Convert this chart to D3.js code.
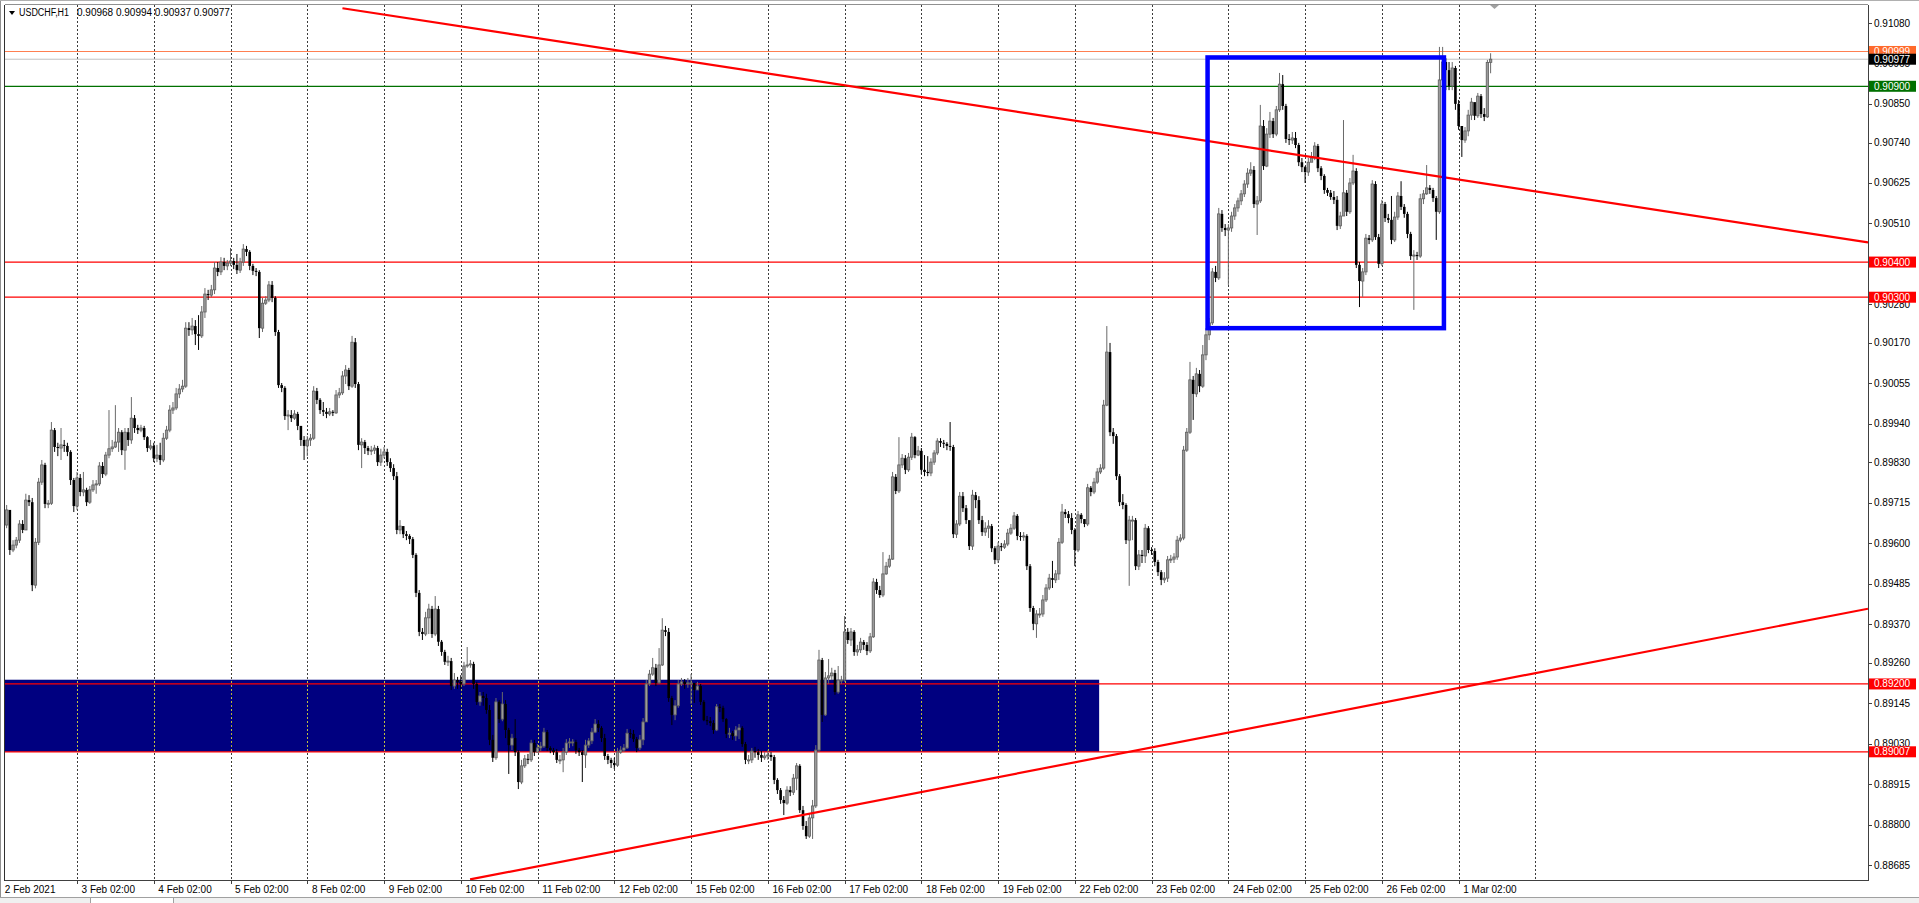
<!DOCTYPE html>
<html><head><meta charset="utf-8">
<script src="https://cdn.jsdelivr.net/npm/d3@7"></script>
<style>
html,body{margin:0;padding:0;background:#fff;overflow:hidden}
svg{display:block;font-family:"Liberation Sans",Arial,sans-serif;font-size:10px}
</style></head><body>
<svg id="chart" width="1919" height="903"></svg>
<script>
// ---------------- DATA ----------------
const symbolTitle = "USDCHF,H1";
const lastBarText = ["0.90968", "0.90994", "0.90937", "0.90977"];
const firstBarIndex = 2; // bar index 0 = 2 Feb 02:00, one bar per hour
// prices in points (1 point = 0.00001)
const openPts = [
89652,89695,89581,89595,89609,89655,89638,89723,89717,89481,89603,89774,89823,89712,89714,89922,89874,89871,89880,89877,89860,89780,
89706,89786,89746,89752,89717,89752,89766,89769,89820,89797,89851,89869,89874,89888,89916,89865,89916,89894,89956,89928,89922,89928,89902,89871,
89877,89842,89851,89837,89899,89922,89979,89985,90025,90039,90047,90212,90207,90218,90195,90190,90258,90309,90306,90321,90383,90372,90400,90389,
90397,90403,90392,90377,90400,90437,90429,90389,90375,90372,90212,90283,90292,90335,90298,90201,90050,90042,89962,89965,89956,89968,89934,89894,
89877,89894,89899,90033,90008,89979,89974,89968,89974,89971,90022,90028,90076,90093,90047,90172,90053,89880,89888,89871,89863,89865,89871,89831,
89851,89860,89831,89814,89791,89638,89649,89626,89621,89612,89567,89459,89348,89342,89388,89413,89342,89413,89320,89291,89263,89265,89194,89211,
89206,89200,89251,89254,89257,89200,89149,89166,89160,89126,89041,88990,89149,89100,89143,89069,89026,89046,89006,88921,88967,88987,88984,89032,
89006,89018,89023,89063,89018,89012,89006,88984,88984,89006,89032,89035,89035,89012,89006,88998,89026,89038,89063,89086,89075,89046,88995,88984,
88975,88969,89006,89012,89018,89060,89058,89043,89018,89041,89092,89200,89228,89246,89203,89254,89353,89348,89160,89112,89138,89200,89206,89200,
89203,89203,89183,89194,89149,89097,89094,89089,89069,89135,89132,89100,89058,89060,89052,89069,89075,89029,88984,88984,89009,89006,88998,88990,
88995,88998,88992,88927,88898,88870,88861,88898,88892,88932,88967,88841,88796,88767,88819,88853,89012,89268,89112,89217,89223,89231,89177,89211,
89211,89348,89325,89348,89291,89297,89319,89311,89294,89334,89490,89467,89453,89513,89535,89555,89789,89749,89823,89842,89809,89845,89902,89851,
89863,89809,89803,89800,89831,89857,89891,89886,89883,89877,89874,89626,89655,89734,89700,89666,89592,89737,89723,89666,89632,89643,89649,89586,
89553,89592,89589,89598,89629,89643,89678,89621,89618,89621,89535,89416,89371,89399,89399,89439,89473,89501,89496,89513,89603,89689,89683,89672,
89638,89581,89681,89669,89655,89758,89746,89774,89803,89814,89993,90144,89916,89905,89791,89717,89709,89609,89666,89666,89535,89567,89564,89643,
89581,89578,89547,89518,89496,89501,89553,89555,89561,89609,89615,89865,89916,90065,90025,90082,90047,90136,90193,90227,90372,90355,90537,90497,
90491,90497,90531,90554,90574,90594,90622,90653,90662,90565,90574,90787,90673,90764,90801,90764,90833,90906,90844,90750,90747,90753,90733,90684,
90670,90656,90684,90696,90730,90667,90645,90605,90597,90585,90577,90503,90531,90597,90543,90625,90659,90392,90346,90372,90468,90463,90622,90471,
90395,90565,90525,90520,90463,90528,90588,90557,90537,90480,90417,90420,90417,90580,90594,90611,90605,90582,90543,90918,90969,90946,90901,90952,
90850,90787,90747,90773,90818,90855,90816,90872,90821,90813,90968
];
const highPts = [
89709,89681,89609,89618,89666,89666,89741,89737,89729,89615,89786,89837,89829,89723,89945,89928,89886,89928,89894,89886,89865,89786,
89803,89797,89803,89758,89763,89780,89780,89831,89831,89860,89979,89894,89993,89928,89922,89928,89928,90016,89965,89937,89937,89934,89905,89894,
89886,89880,89886,89914,89934,89993,90002,90042,90053,90065,90229,90229,90241,90235,90249,90275,90326,90321,90335,90400,90400,90414,90412,90406,
90440,90412,90423,90412,90451,90446,90434,90395,90383,90377,90298,90303,90346,90346,90303,90207,90056,90047,89979,89979,89979,89974,89931,89905,
89905,89911,90047,90042,90013,90002,89985,89985,89979,90036,90042,90090,90107,90099,90190,90184,90059,89899,89894,89877,89877,89880,89877,89869,
89874,89869,89842,89825,89803,89666,89649,89635,89626,89618,89572,89467,89359,89405,89428,89422,89450,89422,89325,89297,89280,89274,89231,89220,
89225,89263,89305,89268,89263,89206,89177,89177,89172,89140,89055,89160,89154,89177,89154,89075,89058,89100,89012,88984,88998,89001,89041,89041,
89029,89035,89075,89069,89023,89018,89015,88998,89018,89043,89046,89043,89041,89018,89012,89041,89046,89075,89100,89097,89080,89058,89001,88990,
88990,89018,89023,89029,89072,89072,89069,89049,89055,89103,89211,89240,89274,89257,89302,89387,89365,89359,89166,89154,89211,89217,89214,89217,
89228,89200,89206,89200,89154,89109,89106,89097,89143,89143,89138,89103,89075,89066,89080,89086,89080,89035,88998,89018,89021,89015,89009,89006,
89012,89006,88998,88932,88904,88881,88909,88909,88944,88975,88972,88853,88810,88830,88870,89026,89297,89274,89234,89271,89246,89240,89251,89223,
89393,89359,89359,89353,89311,89331,89325,89319,89345,89501,89499,89479,89575,89547,89567,89803,89797,89902,89854,89851,89857,89914,89905,89877,
89871,89851,89848,89842,89865,89899,89899,89894,89888,89945,89880,89666,89746,89746,89709,89660,89752,89746,89734,89678,89660,89666,89655,89592,
89603,89601,89609,89641,89655,89689,89683,89632,89632,89626,89541,89422,89410,89416,89453,89484,89513,89550,89524,89615,89712,89697,89692,89686,
89643,89692,89686,89669,89769,89763,89786,89814,89825,90008,90218,90170,89928,89911,89797,89740,89714,89678,89678,89672,89581,89581,89655,89649,
89589,89586,89553,89524,89518,89564,89567,89572,89621,89626,89877,89928,90116,90076,90099,90093,90164,90212,90241,90383,90389,90554,90548,90508,
90508,90543,90565,90583,90605,90633,90667,90684,90673,90588,90847,90804,90781,90827,90810,90844,90938,90932,90850,90764,90770,90770,90739,90696,
90673,90696,90713,90741,90736,90673,90650,90611,90605,90602,90588,90543,90804,90605,90639,90705,90667,90400,90383,90480,90477,90633,90630,90480,
90577,90571,90537,90588,90543,90599,90630,90565,90543,90486,90434,90429,90594,90605,90676,90619,90611,90588,91012,91012,90980,90969,90969,90958,
90861,90787,90784,90833,90867,90850,90881,90878,90838,90975,90994
];
const lowPts = [
89643,89567,89575,89586,89601,89629,89638,89706,89464,89472,89595,89766,89700,89700,89709,89860,89848,89837,89860,89848,89766,89689,
89695,89734,89734,89706,89712,89746,89741,89763,89786,89791,89842,89860,89871,89860,89851,89809,89877,89883,89914,89911,89916,89894,89860,89865,
89831,89831,89823,89831,89894,89916,89968,89979,90013,90030,90042,90190,90193,90164,90150,90184,90241,90292,90300,90309,90360,90363,90377,90377,
90389,90380,90366,90369,90389,90417,90377,90363,90360,90184,90201,90278,90286,90286,90190,90042,90030,89951,89922,89945,89951,89922,89877,89837,
89848,89877,89894,89996,89968,89962,89956,89962,89962,89968,90013,90022,90053,90036,90042,90042,89865,89814,89854,89851,89851,89854,89820,89820,
89842,89820,89803,89780,89626,89626,89615,89609,89598,89558,89447,89336,89325,89336,89342,89331,89336,89308,89280,89254,89251,89183,89186,89186,
89186,89194,89246,89246,89186,89140,89138,89138,89115,89026,88978,88984,89089,89094,89046,88944,89012,88995,88901,88915,88961,88972,88978,88995,
89006,89009,89018,89009,89003,88998,88975,88972,88949,88998,89018,89023,89001,88995,88921,88961,89018,89029,89060,89063,89035,88984,88972,88961,
88958,88964,89001,89006,89015,89046,89035,89006,89012,89026,89092,89194,89223,89194,89200,89251,89336,89149,89083,89097,89132,89194,89186,89189,
89143,89146,89183,89140,89094,89083,89080,89058,89066,89120,89092,89046,89046,89041,89038,89043,89021,88972,88972,88975,88990,88984,88978,88984,
88984,88981,88915,88887,88859,88827,88856,88881,88884,88898,88833,88785,88759,88762,88759,88847,89006,89092,89109,89200,89211,89169,89172,89200,
89206,89314,89308,89280,89280,89288,89297,89282,89288,89331,89456,89445,89447,89510,89530,89553,89740,89743,89814,89797,89803,89837,89842,89848,
89797,89791,89791,89791,89823,89851,89874,89871,89865,89863,89615,89615,89649,89689,89655,89581,89581,89700,89655,89621,89621,89615,89575,89541,
89544,89578,89584,89592,89624,89638,89609,89607,89607,89524,89405,89353,89331,89388,89391,89433,89467,89473,89487,89496,89598,89672,89657,89626,
89535,89575,89657,89646,89649,89734,89740,89769,89797,89809,89990,89905,89883,89780,89706,89697,89598,89479,89609,89524,89524,89544,89544,89572,
89567,89535,89507,89481,89487,89490,89544,89544,89553,89603,89609,89860,89911,89951,90016,90030,90042,90121,90178,90221,90343,90349,90486,90474,
90335,90486,90520,90543,90562,90585,90611,90645,90554,90477,90568,90662,90670,90753,90753,90758,90827,90833,90739,90733,90736,90724,90673,90656,
90625,90645,90687,90690,90656,90633,90594,90588,90577,90565,90491,90494,90543,90531,90537,90619,90383,90272,90301,90363,90451,90457,90463,90383,
90389,90514,90511,90451,90457,90520,90548,90526,90468,90406,90264,90406,90412,90565,90591,90594,90571,90463,90537,90912,90889,90889,90889,90833,
90776,90699,90739,90758,90804,90804,90810,90810,90801,90810,90937
];
const closePts = [
89695,89581,89595,89609,89655,89638,89723,89717,89481,89603,89774,89823,89712,89714,89922,89874,89871,89880,89877,89860,89780,89706,
89786,89746,89752,89717,89752,89766,89769,89820,89797,89851,89869,89874,89888,89916,89865,89916,89894,89956,89928,89922,89928,89902,89871,89877,
89842,89851,89837,89899,89922,89979,89985,90025,90039,90047,90212,90207,90218,90195,90190,90258,90309,90306,90321,90383,90372,90400,90389,90397,
90403,90392,90377,90400,90437,90429,90389,90375,90372,90212,90283,90292,90335,90298,90201,90050,90042,89962,89965,89956,89968,89934,89894,89877,
89894,89899,90033,90008,89979,89974,89968,89974,89971,90022,90028,90076,90093,90047,90172,90053,89880,89888,89871,89863,89865,89871,89831,89851,
89860,89831,89814,89791,89638,89649,89626,89621,89612,89567,89459,89348,89342,89388,89413,89342,89413,89320,89291,89263,89265,89194,89211,89206,
89200,89251,89254,89257,89200,89149,89166,89160,89126,89041,88990,89149,89100,89143,89069,89026,89046,89006,88921,88967,88987,88984,89032,89006,
89018,89023,89063,89018,89012,89006,88984,88984,89006,89032,89035,89035,89012,89006,88998,89026,89038,89063,89086,89075,89046,88995,88984,88975,
88969,89006,89012,89018,89060,89058,89043,89018,89041,89092,89200,89228,89246,89203,89254,89353,89348,89160,89112,89138,89200,89206,89200,89203,
89203,89183,89194,89149,89097,89094,89089,89069,89135,89132,89100,89058,89060,89052,89069,89075,89029,88984,88984,89009,89006,88998,88990,88995,
88998,88992,88927,88898,88870,88861,88898,88892,88932,88967,88841,88796,88767,88819,88853,89012,89268,89112,89217,89223,89231,89177,89211,89211,
89348,89325,89348,89291,89297,89319,89311,89294,89334,89490,89467,89453,89513,89535,89555,89789,89749,89823,89842,89809,89845,89902,89851,89863,
89809,89803,89800,89831,89857,89891,89886,89883,89877,89874,89626,89655,89734,89700,89666,89592,89737,89723,89666,89632,89643,89649,89586,89553,
89592,89589,89598,89629,89643,89678,89621,89618,89621,89535,89416,89371,89399,89399,89439,89473,89501,89496,89513,89603,89689,89683,89672,89638,
89581,89681,89669,89655,89758,89746,89774,89803,89814,89993,90144,89916,89905,89791,89717,89709,89609,89666,89666,89535,89567,89564,89643,89581,
89578,89547,89518,89496,89501,89553,89555,89561,89609,89615,89865,89916,90065,90025,90082,90047,90136,90193,90227,90372,90355,90537,90497,90491,
90497,90531,90554,90574,90594,90622,90653,90662,90565,90574,90787,90673,90764,90801,90764,90833,90906,90844,90750,90747,90753,90733,90684,90670,
90656,90684,90696,90730,90667,90645,90605,90597,90585,90577,90503,90531,90597,90543,90625,90659,90392,90346,90372,90468,90463,90622,90471,90395,
90565,90525,90520,90463,90528,90588,90557,90537,90480,90417,90420,90417,90580,90594,90611,90605,90582,90543,90918,90969,90946,90901,90952,90850,
90787,90747,90773,90818,90855,90816,90872,90821,90813,90968,90977
];
const timeLabels = ["2 Feb 2021","3 Feb 02:00","4 Feb 02:00","5 Feb 02:00","8 Feb 02:00","9 Feb 02:00","10 Feb 02:00","11 Feb 02:00","12 Feb 02:00","15 Feb 02:00","16 Feb 02:00","17 Feb 02:00","18 Feb 02:00","19 Feb 02:00","22 Feb 02:00","23 Feb 02:00","24 Feb 02:00","25 Feb 02:00","26 Feb 02:00","1 Mar 02:00"];
const timeLabelBars = [0,24,48,72,96,120,144,168,192,216,240,264,288,312,336,360,384,408,432,456];
const gridBars = [24,48,72,96,120,144,168,192,216,240,264,288,312,336,360,384,408,432,456,480];
const priceTicks = [0.91080,0.90965,0.90850,0.90740,0.90625,0.90510,0.90280,0.90170,0.90055,0.89940,0.89830,0.89715,0.89600,0.89485,0.89370,0.89260,0.89145,0.89030,0.88915,0.88800,0.88685];
const levelPrices = [0.90999, 0.90900, 0.90400, 0.90300, 0.89200, 0.89007];
const bidPrice = 0.90977;
const trendDown = [[107, 0.91122], [584, 0.90456]];   // [bar index, price]
const trendUp = [[146.9, 0.88644], [584, 0.89414]];
const zoneBars = [-5, 343.6], zonePrices = [0.89007, 0.89212];
const boxBars = [377.5, 451.4], boxPrices = [0.90212, 0.90982];

// ---------------- DRAW ----------------
const svg = d3.select("#chart");
const P = {l: 5, r: 1868, t: 5, b: 880};
const x = d3.scaleLinear().domain([0, 584]).range([0.25, 1868]);
const y = d3.scaleLinear().domain([0.88685, 0.91080]).range([865, 23]);
const levelColors = ["#FF7F50", "#007000", "#FF0000", "#FF0000", "#FF0000", "#FF0000"];

svg.append("rect").attr("width", 1919).attr("height", 903).attr("fill", "#fff");
svg.append("defs").append("clipPath").attr("id", "clip")
  .append("rect").attr("x", P.l).attr("y", P.t).attr("width", P.r - P.l).attr("height", P.b - P.t);

const g = svg.append("g").attr("clip-path", "url(#clip)");
g.append("rect").attr("x", P.l).attr("y", P.t).attr("width", P.r - P.l).attr("height", P.b - P.t).attr("fill", "#fff");

// navy zone
g.append("rect")
  .attr("x", x(zoneBars[0])).attr("width", x(zoneBars[1]) - x(zoneBars[0]))
  .attr("y", y(zonePrices[1])).attr("height", y(zonePrices[0]) - y(zonePrices[1]))
  .attr("fill", "#000080");

// vertical grid (difference blend: dark on white, yellowish on navy)
g.selectAll("line.grid").data(gridBars).join("line")
  .attr("class", "grid")
  .attr("x1", d => Math.round(x(d)) + 0.5).attr("x2", d => Math.round(x(d)) + 0.5)
  .attr("y1", P.t).attr("y2", P.b)
  .attr("stroke", "#C4C4C4").attr("stroke-width", 1).attr("stroke-dasharray", "2,2")
  .style("mix-blend-mode", "difference");

// horizontal levels
g.append("line").attr("x1", P.l).attr("x2", P.r)
  .attr("y1", y(bidPrice)).attr("y2", y(bidPrice)).attr("stroke", "#C0C0C0").attr("stroke-width", 1);
g.selectAll("line.level").data(levelPrices).join("line")
  .attr("class", "level")
  .attr("x1", P.l).attr("x2", P.r)
  .attr("y1", d => y(d)).attr("y2", d => y(d))
  .attr("stroke", (d, i) => levelColors[i]).attr("stroke-width", 1.2);

// candles
const n = closePts.length;
const bars = d3.range(n).map(i => ({
  b: firstBarIndex + i, o: openPts[i] / 1e5, h: highPts[i] / 1e5, l: lowPts[i] / 1e5, c: closePts[i] / 1e5
}));
const cg = g.append("g");
bars.forEach(d => {
  const cx = x(d.b);
  const up = d.c >= d.o;
  const col = up ? "#6a6a6a" : "#000";
  cg.append("line").attr("x1", cx).attr("x2", cx).attr("y1", y(d.h)).attr("y2", y(d.l))
    .attr("stroke", col).attr("stroke-width", 1);
  const top = y(Math.max(d.o, d.c)), bot = y(Math.min(d.o, d.c));
  const hgt = Math.max(1, bot - top);
  if (up) {
    cg.append("rect").attr("x", cx - 1.2).attr("width", 2.4).attr("y", top).attr("height", hgt)
      .attr("fill", "#9a9a9a").attr("stroke", "#5e5e5e").attr("stroke-width", 0.8);
  } else {
    cg.append("rect").attr("x", cx - 1.3).attr("width", 2.6).attr("y", top).attr("height", hgt)
      .attr("fill", "#000");
  }
});

// trend lines
const tl = d3.line().x(d => x(d[0])).y(d => y(d[1]));
[trendDown, trendUp].forEach(t => {
  g.append("path").attr("d", tl(t)).attr("stroke", "#FF0000").attr("stroke-width", 2.2).attr("fill", "none");
});

// blue box
g.append("rect")
  .attr("x", x(boxBars[0])).attr("width", x(boxBars[1]) - x(boxBars[0]))
  .attr("y", y(boxPrices[1])).attr("height", y(boxPrices[0]) - y(boxPrices[1]))
  .attr("fill", "none").attr("stroke", "#0000FF").attr("stroke-width", 4.5);

// frame
svg.append("line").attr("x1", P.l).attr("x2", P.r).attr("y1", P.b + 0.5).attr("y2", P.b + 0.5).attr("stroke", "#404040");
svg.append("line").attr("x1", P.r + 0.5).attr("x2", P.r + 0.5).attr("y1", P.t).attr("y2", P.b + 1).attr("stroke", "#404040");
svg.append("line").attr("x1", P.l).attr("x2", P.r).attr("y1", P.t - 0.5).attr("y2", P.t - 0.5).attr("stroke", "#909090");
svg.append("line").attr("x1", 4.5).attr("x2", 4.5).attr("y1", P.t).attr("y2", P.b + 1).attr("stroke", "#303030");
svg.append("line").attr("x1", 0.5).attr("x2", 0.5).attr("y1", 0).attr("y2", 897).attr("stroke", "#909090");
svg.append("line").attr("x1", 0).attr("x2", 1919).attr("y1", 0.5).attr("y2", 0.5).attr("stroke", "#b0b0b0");

// price axis
const ya = svg.append("g");
ya.selectAll("line").data(priceTicks).join("line")
  .attr("x1", P.r).attr("x2", P.r + 4).attr("y1", d => Math.round(y(d)) + 0.5).attr("y2", d => Math.round(y(d)) + 0.5)
  .attr("stroke", "#404040");
ya.selectAll("text").data(priceTicks).join("text")
  .attr("x", 1874).attr("y", d => y(d) + 3.5).attr("fill", "#000")
  .text(d => d3.format(".5f")(d));

// level labels
const boxes = levelPrices.map((p, i) => ({p, col: levelColors[i] === "#FF7F50" ? "#FF6A2B" : levelColors[i]}));
boxes.push({p: bidPrice, col: "#000"});
const lb = svg.append("g");
boxes.forEach(d => {
  const yy = y(d.p);
  lb.append("rect").attr("x", 1869).attr("y", yy - 5.5).attr("width", 47).attr("height", 11).attr("fill", d.col);
  lb.append("text").attr("x", 1874).attr("y", yy + 3.5).attr("fill", "#fff").text(d3.format(".5f")(d.p));
});

// time axis
const xa = svg.append("g");
xa.selectAll("line").data(timeLabelBars.slice(1)).join("line")
  .attr("x1", d => Math.round(x(d)) + 0.5).attr("x2", d => Math.round(x(d)) + 0.5)
  .attr("y1", P.b).attr("y2", P.b + 4).attr("stroke", "#404040");
xa.selectAll("text").data(timeLabels).join("text")
  .attr("x", (d, i) => x(timeLabelBars[i]) + 4.6).attr("y", 893).attr("fill", "#000")
  .text(d => d);

// bottom tab strip
svg.append("rect").attr("x", 0).attr("y", 897).attr("width", 1919).attr("height", 6).attr("fill", "#f0f0f0");
svg.append("line").attr("x1", 0).attr("x2", 1919).attr("y1", 897.5).attr("y2", 897.5).attr("stroke", "#a0a0a0");
svg.append("rect").attr("x", 90.5).attr("y", 897.5).attr("width", 83).attr("height", 6).attr("fill", "#fff").attr("stroke", "#a0a0a0");

// header
svg.append("path").attr("d", "M9,11 L15,11 L12,15 Z").attr("fill", "#000");
svg.append("text").attr("x", 19).attr("y", 16).attr("fill", "#000")
  .attr("textLength", 50).attr("lengthAdjust", "spacingAndGlyphs").text(symbolTitle);
svg.append("text").attr("x", 77).attr("y", 16).attr("fill", "#000").text(lastBarText.join(" "));

// chart shift marker
svg.append("path").attr("d", "M1490,5 L1499,5 L1494.5,9 Z").attr("fill", "#a0a0a0");
</script>
</body></html>
